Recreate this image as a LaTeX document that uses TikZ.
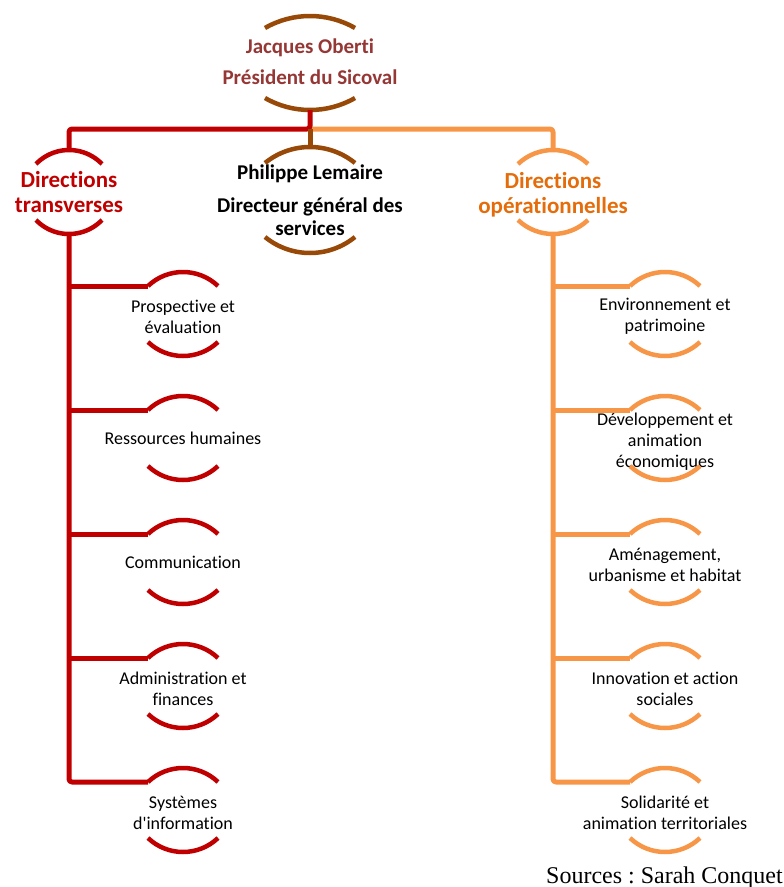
\documentclass[tikz,border=0pt]{standalone}
\usepackage{fontspec}
\setmainfont{Carlito}[Ligatures=NoCommon]
\newfontfamily\srcfont{Liberation Serif}
\definecolor{cred}{HTML}{C00000}
\definecolor{corange}{HTML}{F79646}
\definecolor{corangetxt}{HTML}{E46C0A}
\definecolor{cbrown}{HTML}{984807}
\definecolor{cjac}{HTML}{953735}
\tikzset{
  busline/.style={line width=5pt, line join=round, rounded corners=3pt},
  arcline/.style={line width=4.5pt},
  childtxt/.style={align=center, inner sep=0pt, font=\fontsize{18}{21}\selectfont, text=black},
  headtxt/.style={align=center, inner sep=0pt, font=\fontsize{23}{25}\selectfont\bfseries},
  toptxt/.style={align=center, inner sep=0pt, font=\fontsize{21}{23}\selectfont\bfseries},
}
\newcommand{\ringarcs}[5]{%
  \pgfmathsetmacro{\myR}{(#2*#2+#4*#4)/(2*#4)}%
  \pgfmathsetmacro{\myTh}{asin(#2/\myR)}%
  \pgfmathsetmacro{\myA}{#3+#4}%
  \draw[arcline,#5] ([shift={(-#2pt,#3pt)}]#1.center) arc[start angle={90+\myTh}, end angle={90-\myTh}, radius=\myR pt];
  \draw[arcline,#5] ([shift={(-#2pt,-#3pt)}]#1.center) arc[start angle={270-\myTh}, end angle={270+\myTh}, radius=\myR pt];
  \coordinate (#1-t) at ([yshift=\myA pt]#1.center);
  \coordinate (#1-b) at ([yshift=-\myA pt]#1.center);
  \coordinate (#1-l) at ([shift={(-#2pt,#3pt)}]#1.center);
}
\begin{document}
\begin{tikzpicture}[x=1pt,y=1pt]
\useasboundingbox (0,0) rectangle (784,-887);
% centre points of the rings
\coordinate (J) at (310,-63);
\coordinate (P) at (310,-200);
\coordinate (T) at (69,-192);
\coordinate (O) at (553,-192);
\foreach \n/\y in {1/314,2/438,3/562,4/686,5/810}{
  \coordinate (L\n) at (183,-\y);
  \coordinate (R\n) at (665,-\y);
}
% text nodes
\node[toptxt, text=cjac] (Jt) at ([yshift=1pt]J) {Jacques Oberti\\[8pt]Président du Sicoval};
\node[toptxt, text=black] (Pt) at (P) {Philippe Lemaire\\[10pt]Directeur général des\\services};
\node[headtxt, text=cred] (Tt) at (T) {Directions\\transverses};
\node[headtxt, text=corangetxt] (Ot) at ([yshift=-3pt]O) {Directions\\opérationnelles};
\node[childtxt] (L1t) at ([yshift=-2.5pt]L1) {Prospective et\\évaluation};
\node[childtxt] (L2t) at (L2) {Ressources humaines};
\node[childtxt] (L3t) at (L3) {Communication};
\node[childtxt] (L4t) at ([yshift=-2.5pt]L4) {Administration et\\finances};
\node[childtxt] (L5t) at ([yshift=-2.5pt]L5) {Systèmes\\d\textquotesingle information};
\node[childtxt] (R1t) at ([yshift=-2.5pt]R1) {Environnement et\\patrimoine};
\node[childtxt] (R2t) at ([yshift=-3.5pt]R2) {Développement et\\animation\\économiques};
\node[childtxt] (R3t) at ([yshift=-2.5pt]R3) {Aménagement,\\urbanisme et habitat};
\node[childtxt] (R4t) at ([yshift=-2.5pt]R4) {Innovation et action\\sociales};
\node[childtxt] (R5t) at ([yshift=-2.5pt]R5) {Solidarité et\\animation territoriales};
\node[anchor=base east, inner sep=0pt, font=\srcfont\fontsize{24}{28}\selectfont] (src) at (783,-883) {\frenchspacing Sources : Sarah Conquet};
% arcs
\ringarcs{J}{45}{35}{12}{cbrown}
\ringarcs{P}{45}{37}{16}{cbrown}
\ringarcs{T}{33}{28}{14}{cred}
\ringarcs{O}{35}{28}{14}{corange}
\foreach \n in {L1,L2,L3,L4,L5}{\ringarcs{\n}{35}{28}{14}{cred}}
\foreach \n in {R1,R2,R3,R4,R5}{\ringarcs{\n}{35}{28}{14}{corange}}
% bus
\coordinate (bus) at (310,-129);
\draw[busline, corange] (bus) -| (O-t);
\draw[busline, cred] (T-t) |- (bus) -- (J-b);
\draw[busline, cbrown] (bus) -- (P-t);
% left column
\draw[busline, cred] (T-b) |- (L5-l);
\foreach \n in {L1,L2,L3,L4}{\draw[busline, cred] (T-b |- \n-l) -- (\n-l);}
% right column
\draw[busline, corange] (O-b) |- (R5-l);
\foreach \n in {R1,R2,R3,R4}{\draw[busline, corange] (O-b |- \n-l) -- (\n-l);}
\end{tikzpicture}
\end{document}
